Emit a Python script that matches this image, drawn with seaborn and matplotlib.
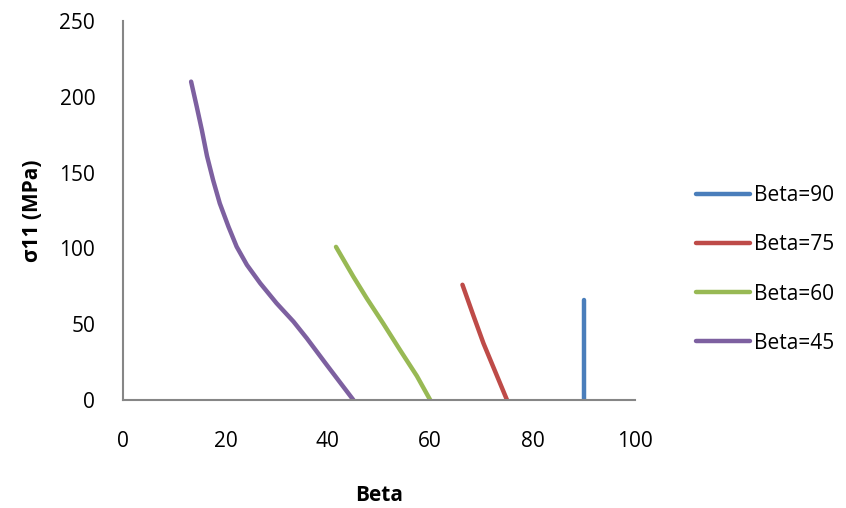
import pandas as pd
import matplotlib
matplotlib.use("Agg")
import matplotlib.pyplot as plt
import seaborn as sns

# values
beta90_x = [90, 90]
beta90_y = [0, 66]
beta75_x = [66.3, 68.4, 70.4, 72.7, 75]
beta75_y = [76, 56, 37.4, 18.7, 0]
beta60_x = [41.6, 45.0, 47.6, 50.8, 54.1, 57.4, 60]
beta60_y = [101, 81.3, 67.1, 50.6, 33.0, 15.8, 0]
beta45_x = [13.3, 14.4, 15.4, 16.4, 17.6, 18.9, 20.6, 22.2, 24.2, 26.8,
            30.0, 33.3, 35.9, 39.8, 45]
beta45_y = [210, 193.5, 178, 161, 145, 129.7, 114.3, 101.1, 89.1, 77,
            63.8, 51.7, 40.7, 23.1, 0]

labels = ["Beta=90", "Beta=75", "Beta=60", "Beta=45"]
colors = ["#4A7EBB", "#BE4B48", "#98B954", "#7D60A0"]
xticks = [0, 20, 40, 60, 80, 100]
yticks = [0, 50, 100, 150, 200, 250]

frames = []
for lab, xs, ys in zip(labels, [beta90_x, beta75_x, beta60_x, beta45_x],
                       [beta90_y, beta75_y, beta60_y, beta45_y]):
    frames.append(pd.DataFrame({"Beta": xs, "sigma": ys, "series": lab}))
df = pd.concat(frames, ignore_index=True)

sns.set_style("white")
plt.rcParams["font.family"] = ["Open Sans", "DejaVu Sans"]
plt.rcParams["text.color"] = "black"

fig = plt.figure(figsize=(8.46, 5.08), dpi=100)
ax = fig.add_axes([0.1454, 0.2126, 0.6052, 0.7461])

sns.lineplot(data=df, x="Beta", y="sigma", hue="series", hue_order=labels,
             palette=colors, units="series", estimator=None, sort=False,
             linewidth=3.2, ax=ax, legend=False)
for line in ax.get_lines():
    line.set_solid_capstyle("round")
    line.set_solid_joinstyle("round")

ax.set_xlim(0, 100)
ax.set_ylim(0, 250)
ax.set_xticks(xticks)
ax.set_yticks(yticks)
ax.tick_params(length=0, labelsize=15, colors="black")
ax.tick_params(axis="x", pad=22)
ax.tick_params(axis="y", pad=20)
for s in ["top", "right"]:
    ax.spines[s].set_visible(False)
for s in ["left", "bottom"]:
    ax.spines[s].set_color("#868686")
    ax.spines[s].set_linewidth(1.5)

ax.set_xlabel("Beta", fontsize=15, fontweight="bold", labelpad=24, color="black")
ax.set_ylabel("σ11 (MPa)", fontsize=15, fontweight="bold", labelpad=12, color="black")

handles = [plt.Line2D([], [], color=c, linewidth=3.2, solid_capstyle="round")
           for c in colors]
fig.legend(handles, labels, loc="upper left", bbox_to_anchor=(0.80, 0.672),
           frameon=False, fontsize=15, handlelength=2.6, labelspacing=1.35,
           handletextpad=0.2)

fig.savefig("out.png", dpi=100)
